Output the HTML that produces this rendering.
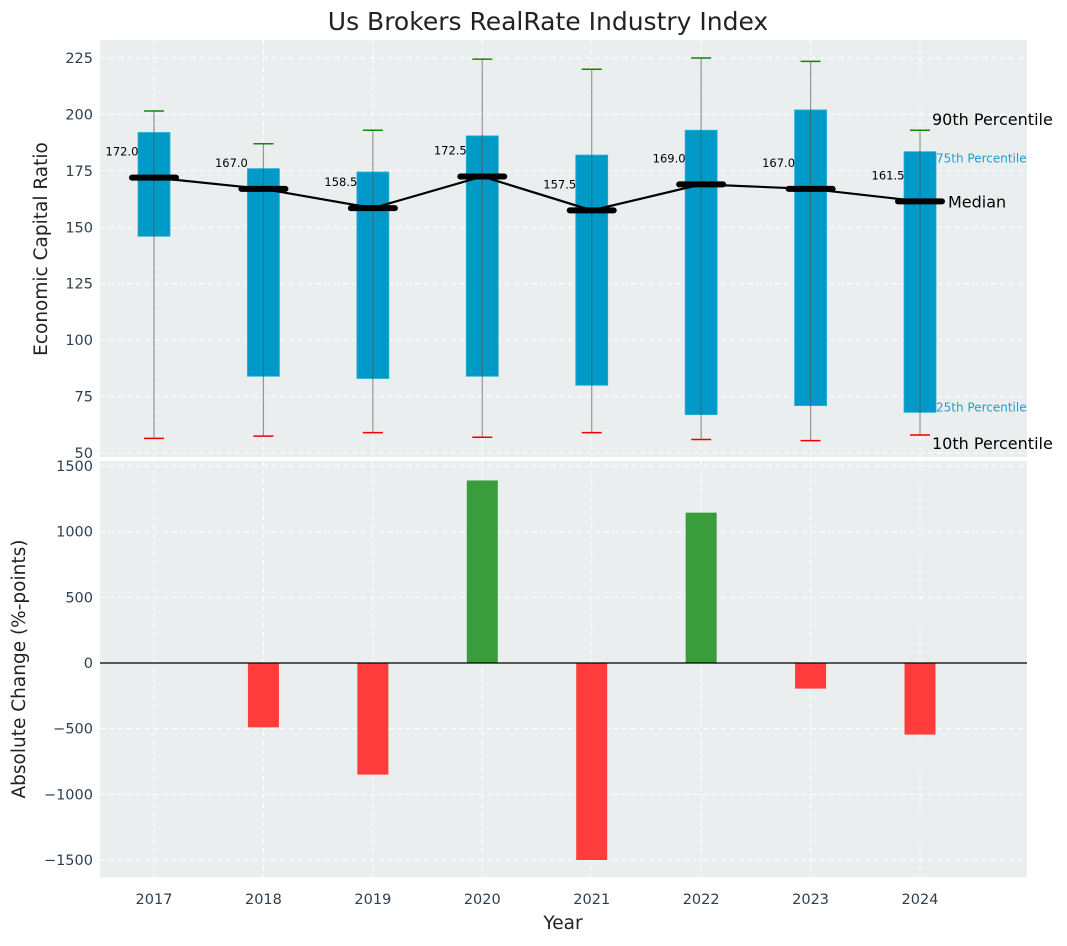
<!DOCTYPE html>
<html><head><meta charset="utf-8"><style>
body{margin:0;background:#fff;font-family:"DejaVu Sans","Liberation Sans",sans-serif}
svg text{font-family:"DejaVu Sans","Liberation Sans",sans-serif}
</style></head><body>
<svg id="c" width="1067" height="942" xmlns="http://www.w3.org/2000/svg"></svg>
<script>
const years=[2017,2018,2019,2020,2021,2022,2023,2024];
const p10=[56.5,57.5,59,57,59,56,55.5,58];
const q1=[146,84,83,84,80,67,71,68];
const med=[172,167,158.5,172.5,157.5,169,167,161.5];
const q3=[192,176,174.5,190.5,182,193,202,183.5];
const p90=[201.5,187,193,224.5,220,225,223.5,193];
const change=[0,-490,-850,1390,-1500,1145,-195,-545];
const topTicks=[50,75,100,125,150,175,200,225];
const botTicks=[-1500,-1000,-500,0,500,1000,1500];
const botLabels=["\u22121500","\u22121000","\u2212500","0","500","1000","1500"];

const svg=document.getElementById('c');
const NS='http://www.w3.org/2000/svg';
function el(t,a,p){const e=document.createElementNS(NS,t);for(const k in a)e.setAttribute(k,a[k]);(p||svg).appendChild(e);return e;}
const X=i=>154+i*109.43;
const YT=v=>453-(v-50)*2.2571;
const YB=v=>663-v*0.13133;
const L=100,R=1027;

let t=el('text',{x:548,y:30,'text-anchor':'middle','font-size':25,fill:'#222'});t.textContent='Us Brokers RealRate Industry Index';


let p1=el('rect',{x:L,y:40,width:R-L,height:417,fill:'#ebeeee'});

let p2=el('rect',{x:L,y:461,width:R-L,height:416,fill:'#ebeeee'});


years.forEach((y,i)=>{
  el('line',{x1:X(i),x2:X(i),y1:40,y2:457,stroke:'#fff','stroke-dasharray':'5,4','stroke-width':1});
  el('line',{x1:X(i),x2:X(i),y1:461,y2:877,stroke:'#fff','stroke-dasharray':'5,4','stroke-width':1});
  let tl=el('text',{x:X(i),y:904,'text-anchor':'middle','font-size':14.5,fill:'#2d3e50'});tl.textContent=y;
  
});
topTicks.forEach(v=>{
  el('line',{x1:L,x2:R,y1:YT(v),y2:YT(v),stroke:'#fff','stroke-dasharray':'5,4'});
  let tl=el('text',{x:93,y:YT(v)+5,'text-anchor':'end','font-size':14.5,fill:'#2d3e50'});tl.textContent=v;
  
});
botTicks.forEach((v,k)=>{
  el('line',{x1:L,x2:R,y1:YB(v),y2:YB(v),stroke:'#fff','stroke-dasharray':'5,4'});
  let tl=el('text',{x:93,y:YB(v)+5,'text-anchor':'end','font-size':14.5,fill:'#2d3e50'});tl.textContent=botLabels[k];
  
});

years.forEach((y,i)=>{
  const x=X(i);
  let b=el('rect',{x:x-16,y:YT(q3[i]),width:32,height:YT(q1[i])-YT(q3[i]),fill:'#009ac9',stroke:'#2ab0d8','stroke-width':0.8});
  
  el('line',{x1:x,x2:x,y1:YT(p90[i]),y2:YT(p10[i]),stroke:'#555','stroke-opacity':0.6,'stroke-width':1.2});
  let c1=el('line',{x1:x-10,x2:x+10,y1:YT(p90[i]),y2:YT(p90[i]),stroke:'#0a8a0a','stroke-width':1.5});
  
  let c2=el('line',{x1:x-10,x2:x+10,y1:YT(p10[i]),y2:YT(p10[i]),stroke:'#e00','stroke-width':1.5});
  
});
let pts=years.map((y,i)=>X(i)+','+YT(med[i])).join(' ');
let ml=el('polyline',{points:pts,fill:'none',stroke:'#000','stroke-width':2.2});

years.forEach((y,i)=>{
  const x=X(i);
  let m=el('line',{x1:x-22,x2:x+22,y1:YT(med[i]),y2:YT(med[i]),stroke:'#000','stroke-width':6,'stroke-linecap':'round'});
  
  let tl=el('text',{x:x-32,y:YT(med[i])-22,'text-anchor':'middle','font-size':11.5,fill:'#000'});tl.textContent=med[i].toFixed(1);
  
});
const n=years.length-1,xa=X(n);
[['90th Percentile',xa+12,YT(p90[n])-5,16,'#000'],['75th Percentile',xa+16,YT(q3[n])+11,12,'#1aa0cf'],['Median',xa+28,YT(med[n])+6,16,'#000'],['25th Percentile',xa+16,YT(q1[n])-1,12,'#1aa0cf'],['10th Percentile',xa+12,YT(p10[n])+14,16,'#000']].forEach(a=>{
  let tl=el('text',{x:a[1],y:a[2],'font-size':a[3],fill:a[4]});tl.textContent=a[0];
  
});

years.forEach((y,i)=>{
  const v=change[i];if(v===0)return;
  let b=el('rect',{x:X(i)-15.5,y:Math.min(YB(v),YB(0)),width:31,height:Math.abs(YB(v)-YB(0)),fill:v>0?'#3a9d3c':'#ff3c3c'});
  
});
el('line',{x1:L,x2:R,y1:YB(0),y2:YB(0),stroke:'#000','stroke-width':1.2});

let a1=el('text',{x:47,y:249,'text-anchor':'middle','font-size':18.5,fill:'#222',transform:'rotate(-90 47 249)'});a1.textContent='Economic Capital Ratio';

let a2=el('text',{x:25,y:669,'text-anchor':'middle','font-size':18.5,fill:'#222',transform:'rotate(-90 25 669)'});a2.textContent='Absolute Change (%-points)';

let a3=el('text',{x:563,y:929,'text-anchor':'middle','font-size':18.5,fill:'#222'});a3.textContent='Year';

</script>
</body></html>
